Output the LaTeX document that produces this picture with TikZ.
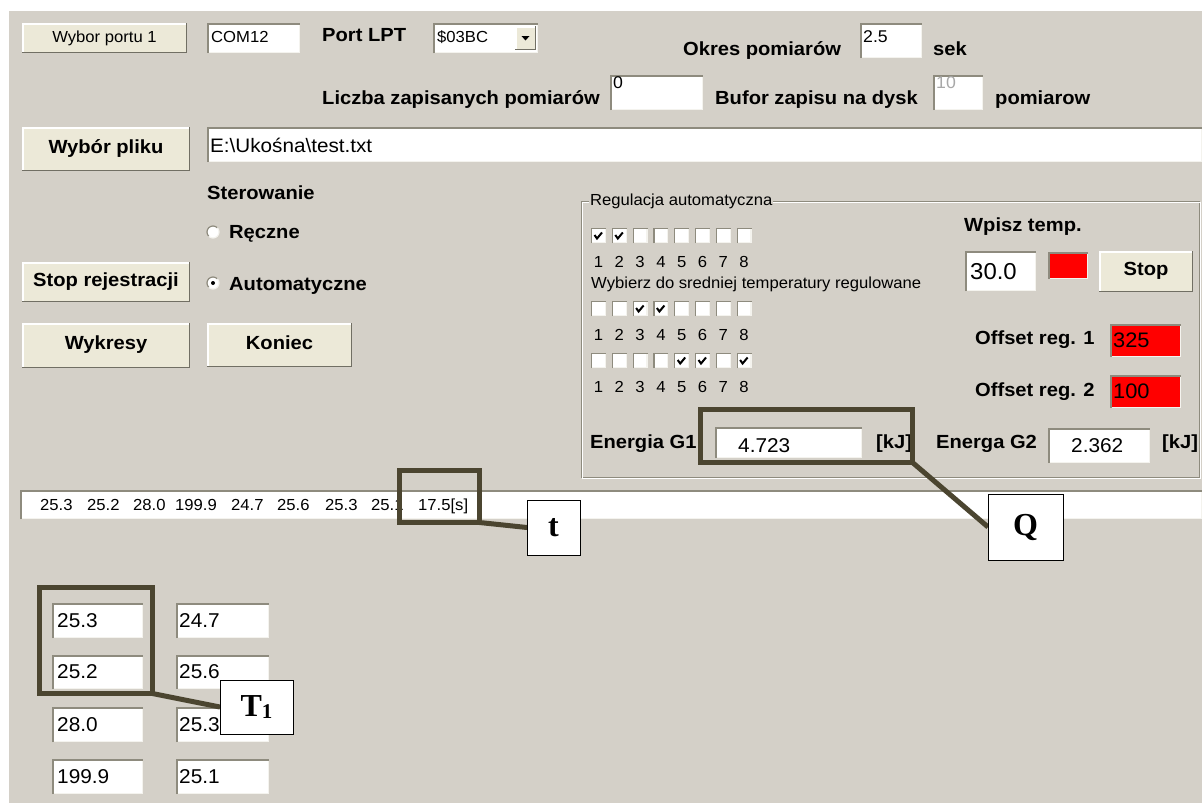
\documentclass[tikz,border=0pt]{standalone}
\usepackage{fontspec}
\setmainfont{Liberation Sans}
\newfontfamily\guibig[FakeStretch=1.06]{Liberation Sans}
\newfontfamily\guisml[FakeStretch=1.04]{Liberation Sans}
\newfontfamily\annfont{Liberation Serif}
\definecolor{winbg}{HTML}{D4D0C8}
\definecolor{btnface}{HTML}{ECE9D8}
\definecolor{btnshadow}{HTML}{716F64}
\definecolor{fieldshadow}{HTML}{8E8B7E}
\definecolor{fieldlight}{HTML}{F4F3EE}
\definecolor{annot}{HTML}{4B4530}
\definecolor{guired}{HTML}{FF0000}
\definecolor{disabledtxt}{HTML}{A8A8A8}
\pgfdeclarelayer{fg}
\pgfsetlayers{main,fg}
\tikzset{
  big/.style={font=\guibig\bfseries\fontsize{19}{21}\selectfont, inner sep=0pt, anchor=base west},
  bigreg/.style={font=\guibig\fontsize{19.5}{21}\selectfont, inner sep=0pt, anchor=base west},
  sml/.style={font=\guisml\fontsize{16}{18}\selectfont, inner sep=0pt, anchor=base west},
  val/.style={font=\guisml\fontsize{#1}{#1}\selectfont, inner sep=0pt, anchor=base west},
  annotbox/.style={draw=annot, line width=5pt, inner sep=0pt, outer sep=0pt},
  annotline/.style={draw=annot, line width=5pt},
  lblbox/.style={draw=black, line width=1pt, fill=white, inner sep=0pt, outer sep=0pt, font=\annfont\bfseries\fontsize{32}{32}\selectfont},
}
\newcommand{\guibtn}[7]{%
  \fill[btnface] (#2,#3) rectangle (#4,#5);
  \draw[white, line width=1.5pt] ({#2+0.75},{#5-1.5}) -- ({#2+0.75},{#3+0.75}) -- ({#4-1.5},{#3+0.75});
  \draw[btnshadow, line width=1.5pt] ({#2},{#5-0.75}) -- ({#4-0.75},{#5-0.75}) -- ({#4-0.75},{#3});
  \node[#6, anchor=mid, yshift=-1.8pt] (#1) at ({(#2+#4)/2},{(#3+#5)/2}) {#7};
}
\newcommand{\guifield}[5]{%
  \fill[#5] (#1,#2) rectangle (#3,#4);
  \draw[fieldlight, line width=1.5pt] ({#1+0.75},{#4-0.75}) -- ({#3-0.75},{#4-0.75}) -- ({#3-0.75},{#2});
  \draw[fieldshadow, line width=1.5pt] ({#1+0.75},{#4}) -- ({#1+0.75},{#2+0.75}) -- ({#3},{#2+0.75});
}
\newcommand{\chkbox}[3]{%
  \fill[white] (#1,#2) rectangle ({#1+15},{#2+15});
  \draw[fieldlight, line width=1.2pt] ({#1+0.6},{#2+14.4}) -- ({#1+14.4},{#2+14.4}) -- ({#1+14.4},{#2});
  \draw[fieldshadow, line width=1.2pt] ({#1+0.6},{#2+15}) -- ({#1+0.6},{#2+0.6}) -- ({#1+15},{#2+0.6});
  \ifnum#3=1 \draw[black, line width=2pt] ({#1+3.5},{#2+7}) -- ({#1+6},{#2+10.5}) -- ({#1+11},{#2+4.5});\fi
}
\newcommand{\guiradio}[3]{%
  \fill[white] (#1,#2) circle[radius=6pt];
  \draw[fieldshadow, line width=1.2pt] (#1,#2) ++(45:6pt) arc[start angle=45, end angle=225, radius=6pt];
  \draw[fieldlight, line width=1.2pt] (#1,#2) ++(225:6pt) arc[start angle=225, end angle=405, radius=6pt];
  \ifnum#3=1 \fill[black] (#1,#2) circle[radius=2pt];\fi
}
\begin{document}
\begin{tikzpicture}[x=1pt,y=-1pt]
\useasboundingbox (0,0) rectangle (1202,809);
\fill[white] (0,0) rectangle (1202,809);
\fill[winbg] (9,11) rectangle (1202,803);

% ---- row 1
\guibtn{bport}{22}{23}{187}{53}{sml}{Wybor portu 1}
\guifield{207}{23}{300}{53}{white}
\node[sml] (com) at (211,42) {COM12};
\node[big] (lpt) at (322,41) {Port LPT};
\guifield{433}{23}{538}{53}{white}
\node[sml] (lptval) at (437,42) {\$03BC};
\guibtn{lptarrow}{515}{26}{536}{50}{sml}{}
\fill[black] (521.5,36) -- (529.5,36) -- (525.5,40.5) -- cycle;
\node[big] (okres) at (683,55) {Okres pomiarów};
\guifield{860}{23}{922}{58}{white}
\node[val=17] (okresval) at (863,42) {2.5};
\node[big] (sek) at (933,55) {sek};

% ---- row 2
\node[big] (liczba) at (322,104) {Liczba zapisanych pomiarów};
\guifield{610}{75}{703}{110}{white}
\node[val=17] (liczbaval) at (613,88) {0};
\node[big] (bufor) at (715,104) {Bufor zapisu na dysk};
\guifield{933}{75}{983}{110}{white}
\node[val=17, text=disabledtxt] (buforval) at (936,88) {10};
\node[big] (pomiarow) at (995,104) {pomiarow};

% ---- file row
\guibtn{bplik}{22}{127}{190}{171}{big}{Wybór pliku}
\guifield{207}{127}{1202}{162}{white}
\node[bigreg] (plik) at (210,152) {E:\textbackslash Ukośna\textbackslash test.txt};

% ---- left controls
\node[big] (ster) at (207,199) {Sterowanie};
\guiradio{213}{232}{0}
\node[big] (reczne) at (229,238) {Ręczne};
\guibtn{bstop}{22}{262}{190}{302}{big}{Stop rejestracji}
\guiradio{213}{283}{1}
\node[big] (automat) at (229,290) {Automatyczne};
\guibtn{bwyk}{22}{323}{190}{368}{big}{Wykresy}
\guibtn{bkon}{207}{323}{352}{367}{big}{Koniec}

% ---- group box
\draw[fieldshadow, line width=1pt] (581,201) rectangle (1199,477);
\draw[white, line width=1pt] (582,202) rectangle (1200,478);
\node[sml, fill=winbg, inner sep=1pt] (grp) at (589,205) {Regulacja automatyczna};

\foreach \i/\a/\b/\c in {1/1/0/0, 2/1/0/0, 3/0/1/0, 4/0/1/0, 5/0/0/1, 6/0/0/1, 7/0/0/0, 8/0/0/1} {
  \pgfmathsetmacro{\cx}{591+20.8*(\i-1)}
  \pgfmathsetmacro{\nx}{\cx+7.5}
  \chkbox{\cx}{228}{\a}
  \chkbox{\cx}{301}{\b}
  \chkbox{\cx}{353}{\c}
  \node[sml, anchor=base] (na\i) at (\nx,267) {\i};
  \node[sml, anchor=base] (nb\i) at (\nx,340) {\i};
  \node[sml, anchor=base] (nc\i) at (\nx,392) {\i};
}
\node[sml] (wybierz) at (591,288) {Wybierz do sredniej temperatury regulowane};

\node[big] (wpisz) at (964,231) {Wpisz temp.};
\guifield{965}{251}{1036}{291}{white}
\node[val=23] (tempval) at (970,279) {30.0};
\guifield{1048}{252}{1088}{279}{guired}
\guibtn{bstopreg}{1099}{251}{1193}{292}{big}{Stop}

\node[big] (off1) at (975,344) {Offset reg. 1};
\guifield{1110}{324}{1181}{357}{guired}
\node[val=21] (off1val) at (1113,347) {325};
\node[big] (off2) at (975,396) {Offset reg. 2};
\guifield{1110}{375}{1181}{408}{guired}
\node[val=21] (off2val) at (1113,398) {100};

\node[big] (eg1) at (590,448) {Energia G1};
\guifield{715}{427}{862}{458}{white}
\node[val=20] (eg1val) at (738,452) {4.723};
\node[big] (kj1) at (876,448) {[kJ]};
\node[big] (eg2) at (936,448) {Energa G2};
\guifield{1048}{428}{1150}{463}{white}
\node[val=20] (eg2val) at (1071,452) {2.362};
\node[big] (kj2) at (1162,448) {[kJ]};

% ---- status line
\guifield{20}{490}{1202}{519}{white}
\foreach \v/\px [count=\k] in {25.3/40, 25.2/87, 28.0/133, 199.9/175, 24.7/231, 25.6/277, 25.3/325, 25.1/371} {
  \node[val=16] (s\k) at (\px,510) {\v};
}
\node[val=16] (stime) at (418,510) {17.5[s]};

% ---- temperature grid
\guifield{52}{603}{143}{638}{white}
\node[val=20] (g11) at (57,627) {25.3};
\guifield{52}{655}{143}{689}{white}
\node[val=20] (g12) at (57,678) {25.2};
\guifield{52}{707}{143}{742}{white}
\node[val=20] (g13) at (57,731) {28.0};
\guifield{52}{759}{143}{794}{white}
\node[val=20] (g14) at (57,783) {199.9};
\guifield{176}{603}{269}{638}{white}
\node[val=20] (g21) at (179,627) {24.7};
\guifield{176}{655}{269}{689}{white}
\node[val=20] (g22) at (179,678) {25.6};
\guifield{176}{707}{269}{742}{white}
\node[val=20] (g23) at (179,731) {25.3};
\guifield{176}{759}{269}{794}{white}
\node[val=20] (g24) at (179,783) {25.1};

% ---- annotations
\node[annotbox, minimum width=80pt, minimum height=52pt] (tann) at (439.5,496.5) {};
\node[annotbox, minimum width=212pt, minimum height=53pt] (qann) at (806.5,436) {};
\node[annotbox, minimum width=113pt, minimum height=106pt] (Tann) at (96,640.5) {};
\begin{pgfonlayer}{fg}
\node[lblbox, minimum width=53pt, minimum height=55pt] (tlbl) at (553.5,527.5) {t};
\node[lblbox, minimum width=75pt, minimum height=66pt] (qlbl) at (1025.5,527) {Q};
\node[lblbox, minimum width=73pt, minimum height=54pt] (Tlbl) at (256.5,707) {T\raisebox{-1.5pt}{\fontsize{21}{21}\selectfont 1}};
\end{pgfonlayer}
\draw[annotline] (tann.south east) -- (tlbl.west);
\draw[annotline] (qann.south east) -- (qlbl.west);
\draw[annotline] (Tann.south east) -- (Tlbl.west);
\end{tikzpicture}
\end{document}
